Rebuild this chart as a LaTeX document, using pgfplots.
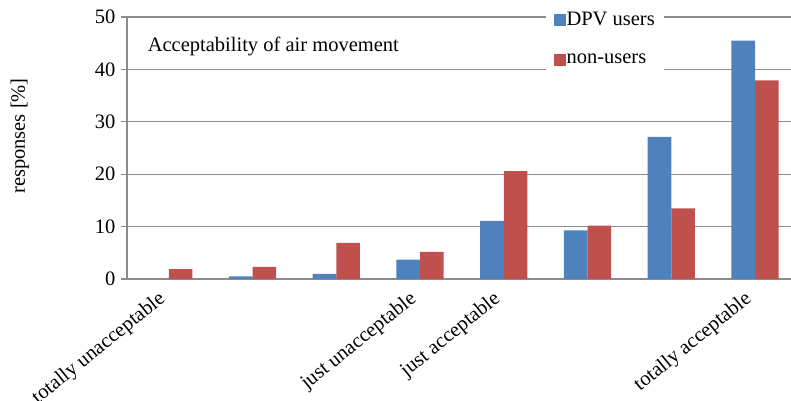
\documentclass[border=0pt]{standalone}
\usepackage{fontspec}
\setmainfont{Liberation Serif}
\usepackage{pgfplots}
\pgfplotsset{compat=1.18}
\definecolor{dpvblue}{HTML}{4F81BD}
\definecolor{nonred}{HTML}{C0504D}
\definecolor{gridgray}{HTML}{8C8C8C}
\newcommand{\chartfont}{\fontsize{20.5bp}{24bp}\selectfont}
\begin{document}
\begin{tikzpicture}
\useasboundingbox (0,0) rectangle (791bp,401bp);
\begin{axis}[
    at={(127bp,122bp)}, anchor=south west,
    scale only axis,
    width=664bp, height=262bp,
    ybar=0pt, bar width=23.6bp,
    xmin=-0.5, xmax=7.43,
    ymin=0, ymax=50,
    enlargelimits=false,
    axis lines*=left,
    axis line style={gridgray, line width=1.3bp},
    ymajorgrids=true,
    grid style={gridgray, line width=1.3bp},
    ytick={0,10,...,50},
    xtick={0,...,7},
    xticklabels={totally unacceptable,,,just unacceptable,just acceptable,,,totally acceptable},
    minor xtick={-0.5,0.5,...,6.5},
    tick align=outside,
    major tick length=6bp, minor tick length=6bp,
    xtick style={draw=none},
    ytick style={gridgray, line width=1.3bp},
    minor x tick style={gridgray, line width=1.3bp},
    /pgf/number format/assume math mode=true,
    ticklabel style={font=\chartfont},
    yticklabel style={xshift=-2bp},
    xticklabel style={rotate=39, anchor=north east, inner sep=0pt, yshift=4bp, xshift=-12bp},
    legend image code/.code={\fill[#1] (0bp,-6bp) rectangle (12bp,6bp);},
    legend style={at={(rel axis cs:0.63,1.065)}, anchor=north west,
        draw=none, fill=white, font=\chartfont,
        inner xsep=8bp, inner ysep=11bp, row sep=25bp,
        nodes={inner sep=1bp, anchor=west, xshift=3bp}},
    legend cell align=left,
]
\addplot[fill=dpvblue, draw=none] coordinates {
    (0,0) (1,0.5) (2,1.0) (3,3.7) (4,11.1) (5,9.3) (6,27.1) (7,45.5)
};
\addplot[fill=nonred, draw=none] coordinates {
    (0,1.9) (1,2.3) (2,6.9) (3,5.2) (4,20.6) (5,10.2) (6,13.5) (7,37.9)
};
\legend{DPV users, non-users}
\node[anchor=west, font=\chartfont] at (rel axis cs:0.026,0.889) {Acceptability of air movement};
\end{axis}
\node[rotate=90, font=\chartfont] at (20bp,265bp) {responses [\%]};
\end{tikzpicture}
\end{document}
